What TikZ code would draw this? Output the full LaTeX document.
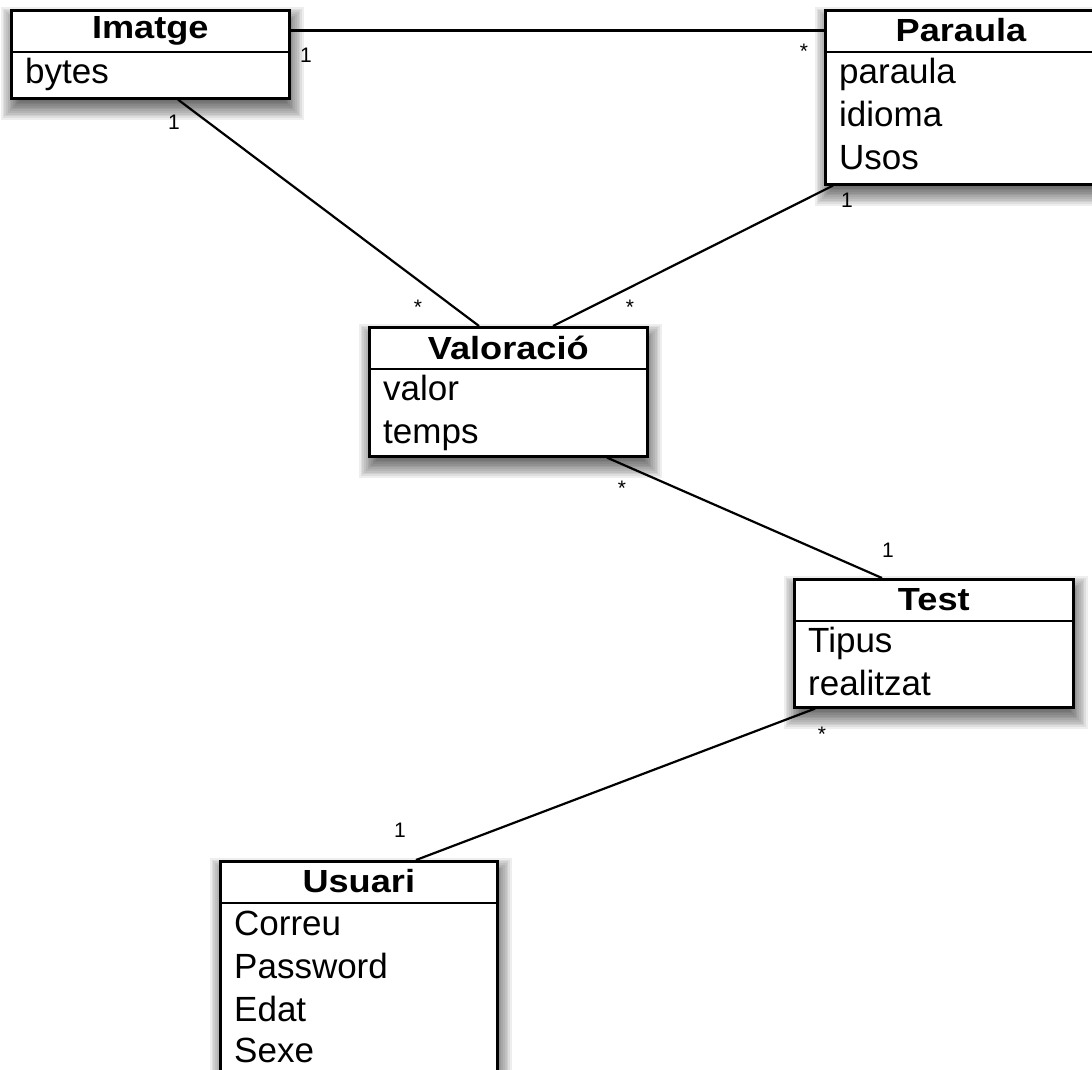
\documentclass[tikz,border=0pt]{standalone}
\usepackage{fontspec}
\usepackage{graphicx}
\setmainfont{Liberation Sans}
\usetikzlibrary{calc,backgrounds}
\tikzset{
  cls/.style={draw, line width=2.6pt, fill=white, rectangle, inner sep=0pt, anchor=north west},
  divider/.style={line width=2.4pt},
  ttl/.style={inner sep=0pt, font=\fontsize{32}{36}\selectfont\bfseries},
  attr/.style={inner sep=0pt, anchor=base west, font=\fontsize{35}{42}\selectfont},
  assoc/.style={line width=2.2pt},
  mult/.style={inner sep=0pt, font=\fontsize{21}{24}\selectfont},
  shadowlayer/.style={black, fill opacity=0.065},
}
\newcommand{\ttltext}[1]{\scalebox{1.13}[1]{#1}}
\newcommand{\boxshadow}[1]{%
  \begin{pgfonlayer}{background}
    \foreach \k in {0,...,11}{
      \pgfmathsetmacro{\rr}{11-\k*1.7}
      \fill[shadowlayer] ($(#1.north west)+(2-\rr,9-\rr)$) rectangle ($(#1.south east)+(2+\rr,9+\rr)$);
    }
  \end{pgfonlayer}}
\begin{document}
\begin{tikzpicture}[x=1pt,y=-1pt]
\clip (0,0) rectangle (1092,1069);
\begin{pgfonlayer}{background}
\fill[white] (0,0) rectangle (1092,1069);
\end{pgfonlayer}

% Imatge
\node[cls, minimum width=278pt, minimum height=88pt] (imatge) at (10,9) {};
\boxshadow{imatge}
\draw[divider] ([yshift=-43pt]imatge.north west) -- ([yshift=-43pt]imatge.north east);
\node[ttl] (imatgeT) at ($(imatge.north)+(0,21.5)$) {\ttltext{Imatge}};
\node[attr] (imatgeA1) at ($(imatge.north west)+(15,74)$) {bytes};

% Paraula
\node[cls, minimum width=290pt, minimum height=174pt] (paraula) at (824,9) {};
\boxshadow{paraula}
\draw[divider] ([yshift=-43pt]paraula.north west) -- ([yshift=-43pt]paraula.north east);
\node[ttl] (paraulaT) at ($(paraula.north west)+(137,21.5)$) {\ttltext{Paraula}};
\node[attr] (paraulaA1) at ($(paraula.north west)+(15,74)$) {paraula};
\node[attr] (paraulaA2) at ($(paraula.north west)+(15,117)$) {idioma};
\node[attr] (paraulaA3) at ($(paraula.north west)+(15,160)$) {Usos};

% Valoracio
\node[cls, minimum width=278pt, minimum height=129pt] (valoracio) at (368,326) {};
\boxshadow{valoracio}
\draw[divider] ([yshift=-43pt]valoracio.north west) -- ([yshift=-43pt]valoracio.north east);
\node[ttl] (valoracioT) at ($(valoracio.north)+(0,21.5)$) {\ttltext{Valoració}};
\node[attr] (valoracioA1) at ($(valoracio.north west)+(15,74)$) {valor};
\node[attr] (valoracioA2) at ($(valoracio.north west)+(15,117)$) {temps};

% Test
\node[cls, minimum width=279pt, minimum height=128pt] (test) at (793,578) {};
\boxshadow{test}
\draw[divider] ([yshift=-43pt]test.north west) -- ([yshift=-43pt]test.north east);
\node[ttl] (testT) at ($(test.north)+(0,21.5)$) {\ttltext{Test}};
\node[attr] (testA1) at ($(test.north west)+(15,74)$) {Tipus};
\node[attr] (testA2) at ($(test.north west)+(15,117)$) {realitzat};

% Usuari
\node[cls, minimum width=277pt, minimum height=240pt] (usuari) at (219,860) {};
\boxshadow{usuari}
\draw[divider] ([yshift=-43pt]usuari.north west) -- ([yshift=-43pt]usuari.north east);
\node[ttl] (usuariT) at ($(usuari.north)+(0,21.5)$) {\ttltext{Usuari}};
\node[attr] (usuariA1) at ($(usuari.north west)+(15,75)$) {Correu};
\node[attr] (usuariA2) at ($(usuari.north west)+(15,118)$) {Password};
\node[attr] (usuariA3) at ($(usuari.north west)+(15,161)$) {Edat};
\node[attr] (usuariA4) at ($(usuari.north west)+(15,202)$) {Sexe};

% connector end points on the class borders
\coordinate (c1a) at ($(imatge.north east)+(0,21.5)$);
\coordinate (c1b) at ($(paraula.north west)+(0,21.5)$);
\coordinate (c2a) at ($(imatge.south west)+(168,0)$);
\coordinate (c2b) at ($(valoracio.north west)+(111,0)$);
\coordinate (c3a) at ($(paraula.south west)+(9,0)$);
\coordinate (c3b) at ($(valoracio.north west)+(185,0)$);
\coordinate (c4a) at ($(valoracio.south west)+(239,0)$);
\coordinate (c4b) at ($(test.north west)+(89,0)$);
\coordinate (c5a) at ($(test.south west)+(22,0)$);
\coordinate (c5b) at ($(usuari.north west)+(197,0)$);

\draw[assoc] (c1a) -- (c1b);
\draw[assoc] (c2a) -- (c2b);
\draw[assoc] (c3a) -- (c3b);
\draw[assoc] (c4a) -- (c4b);
\draw[assoc] (c5a) -- (c5b);

% multiplicities
\node[mult] (m1a) at (306,55) {1};
\node[mult] (m1b) at (804,51) {*};
\node[mult] (m2a) at (174,122) {1};
\node[mult] (m2b) at (418,307) {*};
\node[mult] (m3a) at (847,200) {1};
\node[mult] (m3b) at (630,307) {*};
\node[mult] (m4a) at (622,488) {*};
\node[mult] (m4b) at (888,550) {1};
\node[mult] (m5a) at (822,734) {*};
\node[mult] (m5b) at (400,830) {1};
\end{tikzpicture}
\end{document}
